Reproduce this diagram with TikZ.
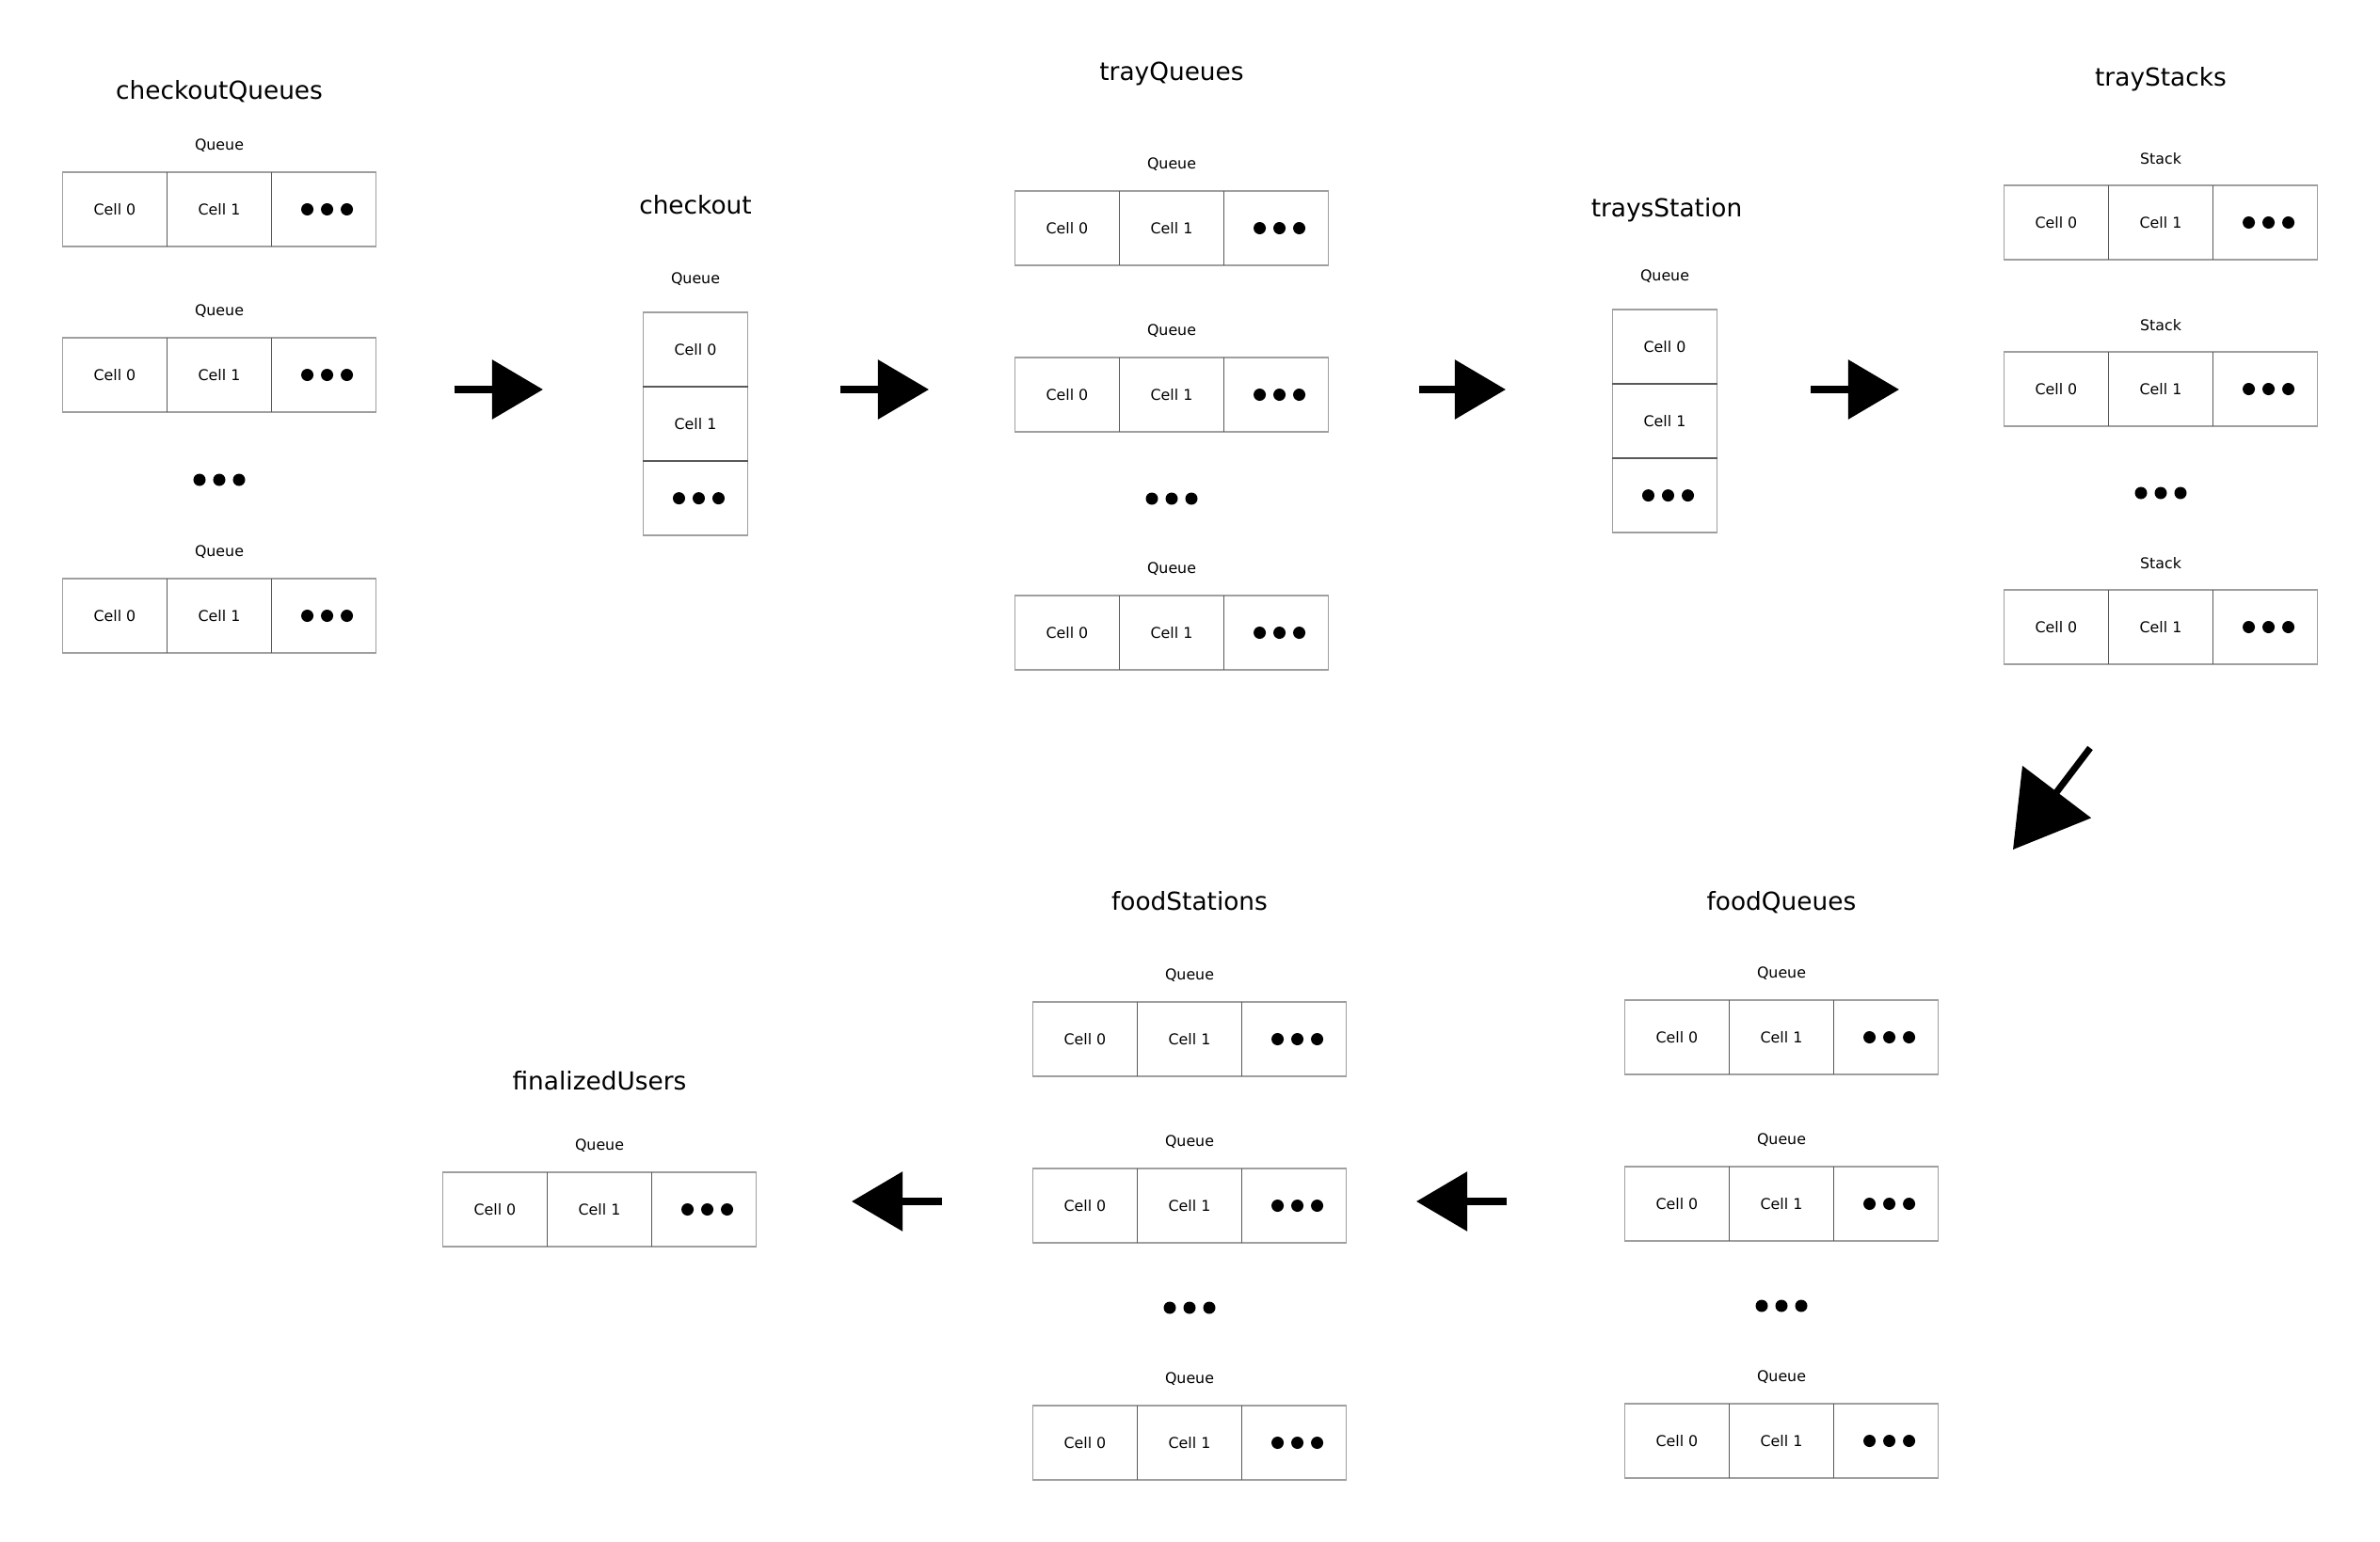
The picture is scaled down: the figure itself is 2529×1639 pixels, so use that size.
\documentclass[tikz,border=0pt]{standalone}
\usepackage{fontspec}
\setmainfont{DejaVu Sans}
\usetikzlibrary{arrows.meta,positioning}

\tikzset{
  cell/.style={draw=gray!75, line width=0.45pt, minimum width=1.11cm, minimum height=0.79cm,
    inner sep=0pt, outer sep=0pt, font=\fontsize{4.5}{5}\selectfont},
  divider/.style={draw=black!65, line width=0.45pt},
  kind/.style={font=\fontsize{4.5}{5}\selectfont},
  title/.style={font=\fontsize{7.5}{9}\selectfont},
  flow/.style={line width=2pt, -{Triangle[length=15.4pt,width=17.6pt]}},
  bigflow/.style={line width=2pt, -{Triangle[length=21.9pt,width=25.6pt]}},
}

% one container laid out left to right: name, x centre, y top, kind
\newcommand{\cellrow}[4]{%
  \node[kind] (#1k) at (#2,#3-28) {#4};
  \node[cell,anchor=north] (#1b) at (#2,#3) {Cell 1};
  \node[cell,left=0pt of #1b] (#1a) {Cell 0};
  \node[cell,right=0pt of #1b] (#1c) {};
  \draw[divider] (#1a.north east) -- (#1a.south east);
  \draw[divider] (#1b.north east) -- (#1b.south east);
  \foreach \k in {-1,0,1}
    \fill ([xshift=\k*0.21cm+0.035cm]#1c.center) circle (0.065cm);
}
% one container laid out top to bottom
\newcommand{\cellcol}[4]{%
  \node[kind] (#1k) at (#2,#3-35) {#4};
  \node[cell,anchor=north] (#1a) at (#2,#3) {Cell 0};
  \node[cell,below=0pt of #1a] (#1b) {Cell 1};
  \node[cell,below=0pt of #1b] (#1c) {};
  \draw[divider] (#1a.south west) -- (#1a.south east);
  \draw[divider] (#1b.south west) -- (#1b.south east);
  \foreach \k in {-1,0,1}
    \fill ([xshift=\k*0.21cm+0.035cm]#1c.center) circle (0.065cm);
}
% dots between containers
\newcommand{\moredots}[2]{%
  \foreach \k in {-1,0,1}
    \fill (#1+\k*21,#2) circle (0.065cm);
}

\begin{document}
\begin{tikzpicture}[x=0.01cm,y=-0.01cm]
        \useasboundingbox (0,0) rectangle (2529,1639);
        % titles
        \node[title] (checkoutQueues) at (233,97) {checkoutQueues};
        \node[title] (checkout) at (739,218) {checkout};
        \node[title] (trayQueues) at (1245,78) {trayQueues};
        \node[title] (traysStation) at (1771,223) {traysStation};
        \node[title] (trayStacks) at (2296,84) {trayStacks};
        \node[title] (foodQueues) at (1893,959) {foodQueues};
        \node[title] (foodStations) at (1264,958) {foodStations};
        \node[title] (finalizedUsers) at (637,1149) {finalizedUsers};
        % top line
        \cellrow{cqA}{233}{183}{Queue}
        \cellrow{cqB}{233}{359}{Queue}
        \moredots{233}{510}
        \cellrow{cqC}{233}{615}{Queue}
        \cellcol{co}{739}{332}{Queue}
        \cellrow{tqA}{1245}{203}{Queue}
        \cellrow{tqB}{1245}{380}{Queue}
        \moredots{1245}{530}
        \cellrow{tqC}{1245}{633}{Queue}
        \cellcol{ts}{1769}{329}{Queue}
        \cellrow{tsA}{2296}{197}{Stack}
        \cellrow{tsB}{2296}{374}{Stack}
        \moredots{2296}{524}
        \cellrow{tsC}{2296}{627}{Stack}
        % bottom line
        \cellrow{fqA}{1893}{1063}{Queue}
        \cellrow{fqB}{1893}{1240}{Queue}
        \moredots{1893}{1388}
        \cellrow{fqC}{1893}{1492}{Queue}
        \cellrow{fsA}{1264}{1065}{Queue}
        \cellrow{fsB}{1264}{1242}{Queue}
        \moredots{1264}{1390}
        \cellrow{fsC}{1264}{1494}{Queue}
        \cellrow{fu}{637}{1246}{Queue}
        % declare points for arrow start/end
        \coordinate (f1s) at (483,414);
        \coordinate (f1e) at (577,414);
        \coordinate (f2s) at (893,414);
        \coordinate (f2e) at (987,414);
        \coordinate (f3s) at (1508,414);
        \coordinate (f3e) at (1600,414);
        \coordinate (f4s) at (1924,414);
        \coordinate (f4e) at (2018,414);
        \coordinate (f5s) at (2221,795);
        \coordinate (f5e) at (2139,903);
        \coordinate (f6s) at (1601,1277);
        \coordinate (f6e) at (1505,1277);
        \coordinate (f7s) at (1001,1277);
        \coordinate (f7e) at (905,1277);
        % draw arrows
        \foreach \a in {f1,f2,f3,f4,f6,f7}
            \draw[flow] (\a s) -- (\a e);
        \draw[bigflow] (f5s) -- (f5e);
\end{tikzpicture}
\end{document}
